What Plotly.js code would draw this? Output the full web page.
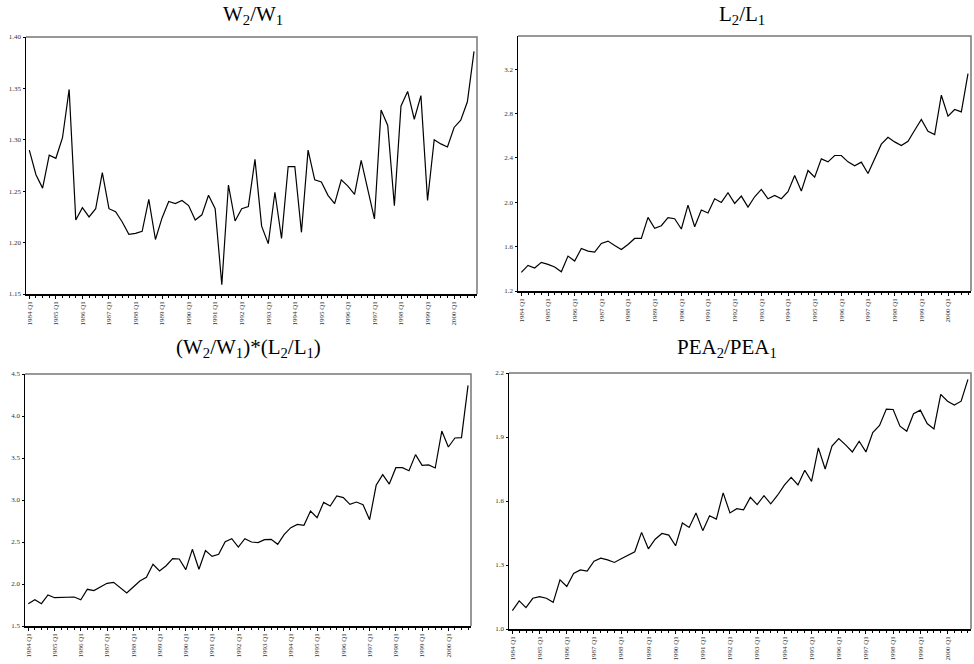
<!DOCTYPE html>
<html>
<head>
<meta charset="utf-8">
<script src="https://cdn.plot.ly/plotly-3.0.1.min.js"></script>
<style>
  html, body { margin: 0; padding: 0; background: #fff; }
  #chart { width: 974px; height: 664px; }
</style>
</head>
<body>
<div id="chart"></div>
<script>
// Quarterly observations, 1984 Q1 - 2000 Q4
const years = [1984, 1985, 1986, 1987, 1988, 1989, 1990, 1991, 1992,
               1993, 1994, 1995, 1996, 1997, 1998, 1999, 2000];
const tickLabels = years.map(y => y + " Q1");

// Relative wage W2/W1
const wageRatio = [
  1.290, 1.266, 1.253, 1.285, 1.282, 1.302, 1.349, 1.222, 1.234, 1.225,
  1.233, 1.268, 1.233, 1.230, 1.220, 1.208, 1.209, 1.211, 1.242, 1.203,
  1.224, 1.240, 1.238, 1.241, 1.236, 1.222, 1.227, 1.246, 1.233, 1.159,
  1.256, 1.221, 1.233, 1.235, 1.281, 1.216, 1.199, 1.249, 1.204, 1.274,
  1.274, 1.210, 1.290, 1.261, 1.259, 1.246, 1.238, 1.261, 1.255, 1.247,
  1.280, 1.253, 1.223, 1.329, 1.314, 1.236, 1.333, 1.347, 1.320, 1.343,
  1.241, 1.300, 1.296, 1.293, 1.312, 1.319, 1.337, 1.386
];

// Relative employment L2/L1
const laborRatio = [
  1.368, 1.431, 1.407, 1.458, 1.440, 1.416, 1.374, 1.515, 1.470, 1.584,
  1.560, 1.551, 1.629, 1.650, 1.611, 1.575, 1.620, 1.674, 1.674, 1.864,
  1.765, 1.789, 1.861, 1.852, 1.759, 1.975, 1.780, 1.930, 1.903, 2.032,
  1.999, 2.086, 1.990, 2.056, 1.957, 2.050, 2.116, 2.032, 2.062, 2.032,
  2.095, 2.242, 2.101, 2.287, 2.227, 2.392, 2.365, 2.422, 2.422, 2.365,
  2.329, 2.362, 2.260, 2.386, 2.524, 2.587, 2.545, 2.512, 2.551, 2.650,
  2.747, 2.641, 2.611, 2.966, 2.777, 2.837, 2.816, 3.161
];

// Relative wage bill (W2/W1)*(L2/L1)
const wageBillRatio = [
  1.766, 1.813, 1.766, 1.869, 1.837, 1.837, 1.845, 1.845, 1.813, 1.937,
  1.921, 1.964, 2.008, 2.020, 1.952, 1.893, 1.964, 2.036, 2.079, 2.234,
  2.155, 2.218, 2.302, 2.298, 2.171, 2.413, 2.175, 2.397, 2.329, 2.353,
  2.504, 2.540, 2.440, 2.540, 2.500, 2.492, 2.528, 2.532, 2.472, 2.591,
  2.671, 2.710, 2.698, 2.869, 2.790, 2.972, 2.929, 3.048, 3.028, 2.948,
  2.976, 2.944, 2.766, 3.175, 3.302, 3.190, 3.385, 3.385, 3.349, 3.540,
  3.413, 3.417, 3.381, 3.821, 3.631, 3.738, 3.742, 4.365
];

// Relative economically active population PEA2/PEA1
const peaRatio = [
  1.086, 1.132, 1.100, 1.144, 1.152, 1.144, 1.125, 1.230, 1.199, 1.260,
  1.277, 1.271, 1.318, 1.332, 1.324, 1.312, 1.329, 1.346, 1.362, 1.453,
  1.376, 1.421, 1.448, 1.440, 1.390, 1.497, 1.476, 1.544, 1.461, 1.531,
  1.515, 1.638, 1.544, 1.564, 1.559, 1.617, 1.583, 1.625, 1.587, 1.627,
  1.674, 1.711, 1.675, 1.744, 1.692, 1.849, 1.750, 1.857, 1.893, 1.863,
  1.830, 1.880, 1.830, 1.921, 1.954, 2.031, 2.029, 1.951, 1.927, 2.009,
  2.026, 1.963, 1.938, 2.100, 2.068, 2.050, 2.068, 2.170
];

const titles = [
  "W<sub>2</sub>/W<sub>1</sub>",
  "L<sub>2</sub>/L<sub>1</sub>",
  "(W<sub>2</sub>/W<sub>1</sub>)*(L<sub>2</sub>/L<sub>1</sub>)",
  "PEA<sub>2</sub>/PEA<sub>1</sub>"
];

const W = 974, H = 664;
const quarterIdx = wageRatio.map((_, i) => i);
const tickVals = years.map((_, k) => 4 * k);

// Pixel boxes of the four panels: [left, right, top, bottom]
const boxes = [
  [26, 477, 37, 294],
  [518, 971, 36, 291],
  [25, 471, 374, 626],
  [509, 971, 373, 629]
];
const yRanges = [[1.15, 1.40], [1.2, 3.5], [1.5, 4.5], [1.0, 2.2]];
const yTicks = [
  {tick0: 1.15, dtick: 0.05, tickformat: ".2f"},
  {tick0: 1.2, dtick: 0.4, tickformat: ".1f"},
  {tick0: 1.5, dtick: 0.5, tickformat: ".1f"},
  {tick0: 1.0, dtick: 0.3, tickformat: ".1f"}
];
const titleY = [15, 15, 348, 348];
const titleX = [253, 742, 248, 727];

const series = [wageRatio, laborRatio, wageBillRatio, peaRatio];
const tickFont = {family: "Liberation Serif, Times New Roman, serif", size: 7, color: "#333"};

const data = [];
const layout = {
  width: W, height: H,
  margin: {l: 0, r: 0, t: 0, b: 0},
  paper_bgcolor: "#fff", plot_bgcolor: "#fff",
  showlegend: false,
  shapes: [], annotations: []
};

series.forEach((vals, p) => {
  const sfx = p === 0 ? "" : String(p + 1);
  const [l, r, t, b] = boxes[p];
  data.push({
    x: quarterIdx, y: vals, type: "scatter", mode: "lines",
    xaxis: "x" + sfx, yaxis: "y" + sfx,
    line: {color: "#000", width: 1.2},
    hoverinfo: "skip"
  });
  layout["xaxis" + sfx] = {
    domain: [l / W, r / W],
    anchor: "y" + sfx,
    range: [-0.5, 67.45],
    showgrid: false, zeroline: false,
    showline: true, linecolor: "#000", linewidth: 1.5,
    tickmode: "array", tickvals: tickVals, ticktext: tickLabels,
    ticks: "outside", ticklen: 3, tickwidth: 1, tickcolor: "#000",
    tickangle: -90, tickfont: tickFont,
    minor: {tickmode: "linear", tick0: 0, dtick: 1, ticks: "outside", ticklen: 2, tickcolor: "#000", showgrid: false}
  };
  layout["yaxis" + sfx] = Object.assign({
    domain: [1 - b / H, 1 - t / H],
    anchor: "x" + sfx,
    range: yRanges[p],
    tickmode: "linear",
    showgrid: false, zeroline: false,
    showline: true, linecolor: "#000", linewidth: 1.5,
    ticks: "outside", ticklen: 2, tickwidth: 1, tickcolor: "#000",
    tickfont: tickFont
  }, yTicks[p]);
  // grey frame on the top and right sides of each panel
  layout.shapes.push({
    type: "path", xref: "paper", yref: "paper", layer: "below",
    path: `M ${l / W} ${1 - t / H} L ${r / W} ${1 - t / H} L ${r / W} ${1 - b / H}`,
    line: {color: "#777", width: 1.5}
  });
  layout.annotations.push({
    text: titles[p], xref: "paper", yref: "paper",
    x: titleX[p] / W, y: 1 - titleY[p] / H,
    xanchor: "center", yanchor: "middle", showarrow: false,
    font: {family: "Liberation Serif, Times New Roman, serif", size: 21, color: "#000"}
  });
});

Plotly.newPlot("chart", data, layout, {staticPlot: true, displayModeBar: false});
</script>
</body>
</html>
